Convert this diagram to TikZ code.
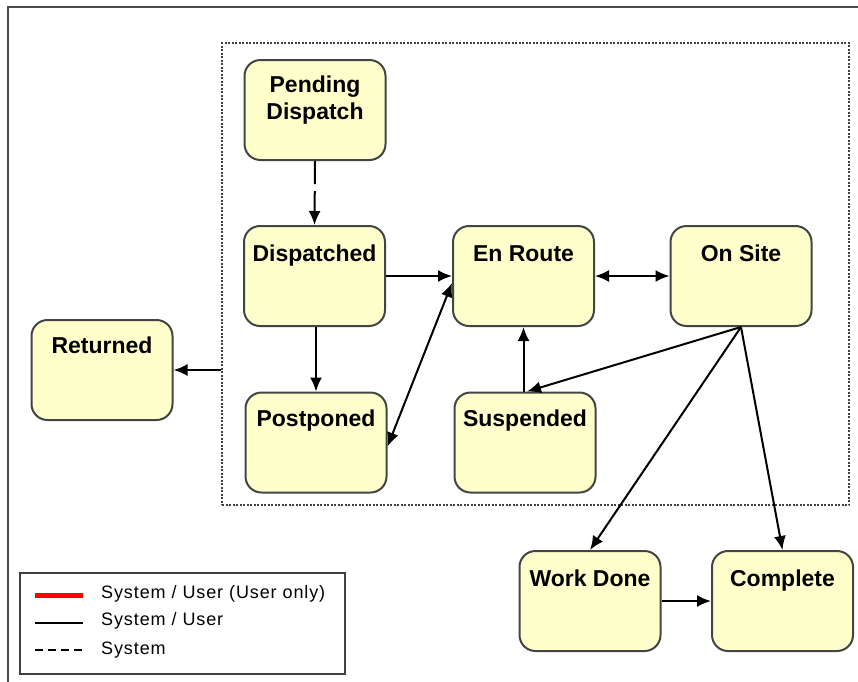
\documentclass[tikz,border=0pt]{standalone}
\usepackage{fontspec}
\setmainfont{Liberation Sans}
\newfontfamily\legfont[LetterSpace=5]{Liberation Sans}
\usetikzlibrary{arrows.meta,calc}
\definecolor{boxfill}{HTML}{FFFFCC}
\definecolor{boxdraw}{HTML}{444444}
\begin{document}
\begin{tikzpicture}[x=1pt,y=-1pt,
  state/.style={draw=boxdraw, fill=boxfill, rounded corners=16pt, line width=2pt,
    minimum width=141pt, minimum height=100pt, inner sep=0pt},
  lbl/.style={font=\fontsize{23}{27}\selectfont\bfseries, anchor=base, inner sep=0pt, align=center},
  conn/.style={line width=2pt, -{Latex[length=14pt,width=12pt]}},
  both/.style={line width=2pt, {Latex[length=14pt,width=12pt]}-{Latex[length=14pt,width=12pt]}},
  legtext/.style={font=\legfont\fontsize{18}{21}\selectfont, anchor=west, inner sep=0pt}]
\useasboundingbox (0,0) rectangle (858,681);
\fill[white] (0,0) rectangle (858,681);
\begin{scope}
  \clip (0,0) rectangle (858,681);
  \draw[line width=2.5pt, draw=black!70] (8,700) -- (8,7) -- (880,7);
\end{scope}

% group box
\node[draw=black!75, dash pattern=on 2pt off 1.5pt, line width=2.2pt,
      minimum width=627pt, minimum height=462pt, inner sep=0pt] (grp) at (535.5,274) {};

% states
\node[state] (pd) at (315,110) {};
\node[state] (di) at (314.5,276) {};
\node[state] (pp) at (316,442.5) {};
\node[state] (er) at (523.5,276) {};
\node[state] (os) at (741,276) {};
\node[state] (su) at (525,442.5) {};
\node[state] (rt) at (102,370) {};
\node[state] (wd) at (590,601) {};
\node[state] (cp) at (782.5,601) {};

% labels
\node[lbl] (pdt) at ($(pd.north)+(0,60)$) {Pending\\Dispatch};
\node[lbl] (dit) at ($(di.north)+(0,36)$) {Dispatched};
\node[lbl] (ppt) at ($(pp.north)+(0,35)$) {Postponed};
\node[lbl] (ert) at ($(er.north)+(0,36)$) {En Route};
\node[lbl] (ost) at ($(os.north)+(0,36)$) {On Site};
\node[lbl] (sut) at ($(su.north)+(0,35)$) {Suspended};
\node[lbl] (rtt) at ($(rt.north)+(0,34)$) {Returned};
\node[lbl] (wdt) at ($(wd.north)+(0,36)$) {Work Done};
\node[lbl] (cpt) at ($(cp.north)+(0,36)$) {Complete};

% connectors
\draw[conn, dash pattern=on 23pt off 7pt] (pd.south) -- (di.north);
\draw[conn] (di.east) -- (di.east -| er.west);
\draw[conn] (pp.north |- di.south) -- (pp.north);
\draw[both] ([yshift=-4pt]pp.east) -- ([yshift=-7pt]er.west);
\draw[both] (er.east) -- (os.west);
\draw[conn] (er.south |- su.north) -- (er.south);
\draw[conn] (os.south) -- ([xshift=2pt]su.north);
\draw[conn] (os.south) -- (wd.north);
\draw[conn] (os.south) -- (cp.north);
\draw[conn] (wd.east) -- (cp.west);
\draw[conn] (grp.west |- rt.east) -- (rt.east);

% legend
\node[draw=black!75, line width=2pt, minimum width=325pt, minimum height=101pt, inner sep=0pt] (leg) at (182.5,623) {};
\coordinate (l1a) at (35,595); \coordinate (l1b) at (83,595);
\coordinate (l2a) at (35,623); \coordinate (l2b) at (83,623);
\coordinate (l3a) at (35,650); \coordinate (l3b) at (83,650);
\draw[red, line width=5pt] (l1a) -- (l1b);
\draw[line width=2pt] (l2a) -- (l2b);
\draw[line width=2pt, dash pattern=on 8pt off 5pt] (l3a) -- (l3b);
\node[legtext] (t1) at (101,594) {System / User (User only)};
\node[legtext] (t2) at (101,621) {System / User};
\node[legtext] (t3) at (101,650) {System};
\end{tikzpicture}
\end{document}
